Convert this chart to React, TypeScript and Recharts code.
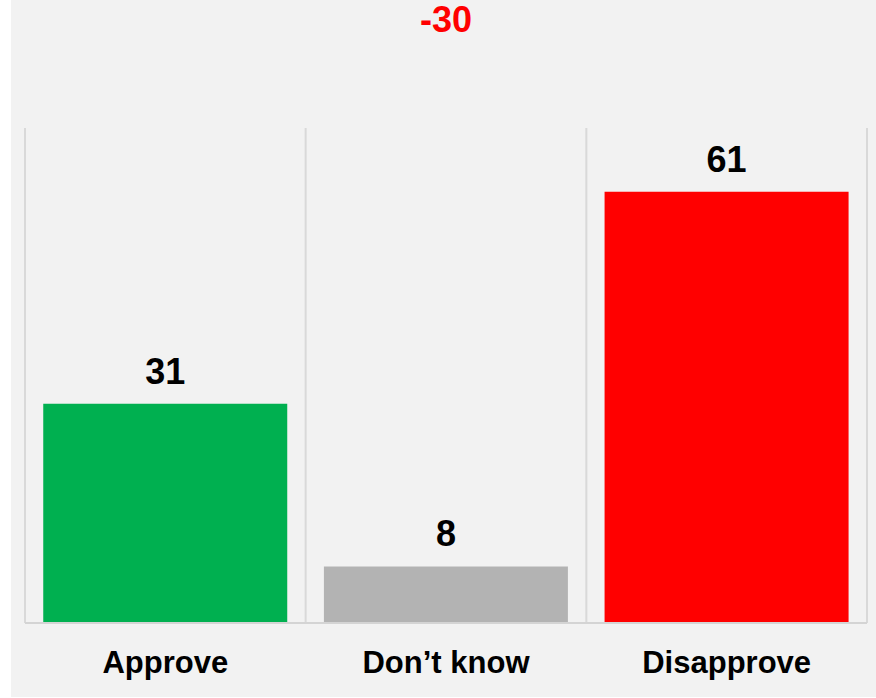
import React from "react";
import { BarChart, Bar, XAxis, YAxis, CartesianGrid, LabelList, Cell } from "recharts";

const categories = ["Approve", "Don\u2019t know", "Disapprove"];
const values = [31, 8, 61];
const colors = ["#00b050", "#b3b3b3", "#ff0000"];
const netLabel = values[0] - values[2];

const data = categories.map((name, i) => ({ name, value: values[i] }));

const FONT = "'Liberation Sans', Arial, sans-serif";

export default function App() {
  return (
    <div style={{ position: "absolute", left: 0, top: 0, width: 876, height: 698, background: "#ffffff" }}>
      <div style={{ position: "absolute", left: 11, top: 0, width: 865, height: 697, background: "#f2f2f2" }} />
      <svg style={{ position: "absolute", left: 0, top: 0 }} width={876} height={60}>
        <text x={446} y={32} textAnchor="middle" fill="#ff0000" fontFamily={FONT} fontWeight="bold" fontSize={36}>
          {netLabel}
        </text>
      </svg>
      <div style={{ position: "absolute", left: 0, top: 0 }}>
        <BarChart
          width={876}
          height={698}
          data={data}
          margin={{ top: 128, right: 9, left: 25, bottom: 0 }}
          barCategoryGap="6.5%"
        >
          <CartesianGrid
            horizontal={false}
            stroke="#d9d9d9"
            strokeWidth={2}
            verticalCoordinatesGenerator={({ offset }: any) =>
              Array.from({ length: categories.length + 1 }, (_, i) => offset.left + (i * offset.width) / categories.length)
            }
          />
          <YAxis hide domain={[0, 70]} />
          <XAxis
            dataKey="name"
            height={75}
            tickLine={false}
            tickSize={0}
            tickMargin={28}
            axisLine={{ stroke: "#d4d4d4", strokeWidth: 2 }}
            tick={{ fill: "#000000", fontFamily: FONT, fontWeight: "bold", fontSize: 31 }}
            interval={0}
          />
          <Bar dataKey="value" isAnimationActive={false}>
            {data.map((d, i) => (
              <Cell key={d.name} fill={colors[i]} />
            ))}
            <LabelList
              dataKey="value"
              position="top"
              offset={20}
              fill="#000000"
              fontFamily={FONT}
              fontWeight="bold"
              fontSize={36}
            />
          </Bar>
        </BarChart>
      </div>
    </div>
  );
}
